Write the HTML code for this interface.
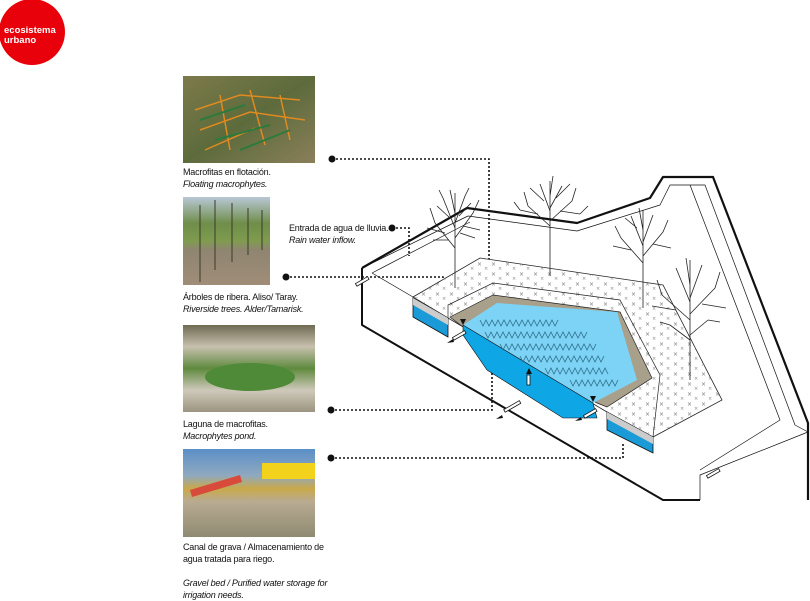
<!DOCTYPE html>
<html><head><meta charset="utf-8"><style>
body{margin:0;background:#fff;width:810px;height:598px;overflow:hidden;font-family:"Liberation Sans",Arial,sans-serif}
.t{position:absolute;font-size:9px;line-height:12px;color:#111;letter-spacing:-0.2px}
i{font-style:italic}
</style></head><body>
<svg width="810" height="598" style="position:absolute;left:0;top:0" xmlns="http://www.w3.org/2000/svg">
<defs>
<linearGradient id="p1" x1="0" y1="0" x2="1" y2="1"><stop offset="0" stop-color="#7d7a4a"/><stop offset=".5" stop-color="#5d6b3c"/><stop offset="1" stop-color="#8a7f5a"/></linearGradient>
<linearGradient id="p2" x1="0" y1="0" x2="0" y2="1"><stop offset="0" stop-color="#b9c7d6"/><stop offset=".3" stop-color="#6f8e4a"/><stop offset=".5" stop-color="#7f9b4f"/><stop offset=".6" stop-color="#8f8570"/><stop offset="1" stop-color="#a08d78"/></linearGradient>
<linearGradient id="p3" x1="0" y1="0" x2="0" y2="1"><stop offset="0" stop-color="#6f6a52"/><stop offset=".25" stop-color="#c7c0ae"/><stop offset=".5" stop-color="#5f8a3e"/><stop offset=".75" stop-color="#cfc9ba"/><stop offset="1" stop-color="#9b9480"/></linearGradient>
<linearGradient id="p4" x1="0" y1="0" x2="0" y2="1"><stop offset="0" stop-color="#5b8fc8"/><stop offset=".3" stop-color="#8fa9c0"/><stop offset=".45" stop-color="#c9a94a"/><stop offset=".6" stop-color="#b8ab92"/><stop offset="1" stop-color="#8f8a72"/></linearGradient>
<pattern id="gx" width="14" height="10" patternUnits="userSpaceOnUse"><text x="1" y="6" font-size="6" fill="#777" font-family="DejaVu Sans">×</text><text x="8" y="10" font-size="5" fill="#888" font-family="DejaVu Sans">×</text></pattern>
</defs>
<circle cx="32" cy="32" r="33" fill="#e8000b"/>
<text x="4" y="33" font-size="9.5" font-weight="bold" fill="#fff" font-family="Liberation Sans">ecosistema</text>
<text x="4" y="43" font-size="9.5" font-weight="bold" fill="#fff" font-family="Liberation Sans">urbano</text>
<rect x="183" y="76" width="132" height="87" fill="url(#p1)"/>
<g stroke="#e08a20" stroke-width="1.5" fill="none"><path d="M195 110 L240 95 L300 100 M200 130 L250 112 L305 120 M205 150 L255 128 M220 95 L230 150 M250 90 L265 145 M280 95 L290 140"/></g>
<g stroke="#2d7a3c" stroke-width="2" fill="none"><path d="M200 120 L245 105 M215 140 L270 125 M240 150 L290 130"/></g>
<rect x="183" y="197" width="87" height="88" fill="url(#p2)"/>
<g stroke="#3a3a2a" stroke-width="1"><path d="M200 205 V282 M215 200 V270 M232 203 V262 M248 208 V255 M262 210 V250"/></g>
<rect x="183" y="325" width="132" height="87" fill="url(#p3)"/>
<ellipse cx="250" cy="377" rx="45" ry="14" fill="#4f8a38"/>
<rect x="183" y="449" width="132" height="88" fill="url(#p4)"/>
<rect x="262" y="463" width="53" height="16" fill="#f2d21a"/>
<path d="M190 490 L240 475 L242 482 L192 497 Z" fill="#d84a3a"/>
<g stroke="#111" stroke-width="1.6" stroke-dasharray="2 2" fill="none">
<path d="M332 159 H489 V310"/>
<path d="M286 277 H443 V293"/>
<path d="M331 410 H492 V365"/>
<path d="M331 458 H623 V442"/>
<path d="M392 228 H409 V256"/>
</g>
<g fill="#111"><circle cx="332" cy="159" r="3.5"/><circle cx="286" cy="277" r="3.5"/><circle cx="331" cy="410" r="3.5"/><circle cx="331" cy="458" r="3.5"/><circle cx="392" cy="228" r="3.5"/></g>
<g stroke="#111" fill="none" stroke-linejoin="round">
<path d="M362 268 L467 208 L577 223 L650 198 L663 177 L713 177 L808 423 L808 500" stroke-width="2.2"/>
<path d="M362 268 L362 325 L663 500 L700 500" stroke-width="2"/>
<path d="M362 268 L468 216 L577 231 L660 205 L670 185 L705 185 L795 425 L808 432" stroke-width=".7"/>
<path d="M372 273 L470 222 M690 185 L780 420 L700 470 M372 273 L413 297 M808 432 L700 475 L700 500" stroke-width=".7"/>
</g>
<path d="M413 297 L480 258 L663 285 L722 400 L653 437 L607 412 L448 318 Z" fill="#fff" stroke="#222" stroke-width=".8"/>
<path d="M413 297 L480 258 L663 285 L722 400 L653 437 L607 412 L448 318 Z" fill="url(#gx)"/>
<path d="M448 318 L448 305 L493 283 L620 300 L660 375 L653 437" fill="none" stroke="#222" stroke-width=".7"/>
<path d="M413 298 L448 318 L448 337 L413 317 Z" fill="#1a9bd7" stroke="#111" stroke-width=".8"/>
<path d="M413 298 L448 318 L448 325 L413 305 Z" fill="#ccc"/>
<path d="M607 412 L653 437 L653 453 L607 430 Z" fill="#1a9bd7" stroke="#111" stroke-width=".8"/>
<path d="M607 412 L653 437 L653 444 L607 419 Z" fill="#ccc"/>
<path d="M450 317 L493 295 L620 312 L652 378 L607 407 L597 403 L463 327 Z" fill="#a8a08a" stroke="#222" stroke-width=".7"/>
<path d="M463 325 L497 303 L617 312 L637 380 L593 403 Z" fill="#7dd3f5"/>
<path d="M463 325 L593 403 L597 418 L563 418 L487 370 L463 335 Z" fill="#0fa6e6" stroke="#111" stroke-width=".6"/>
<g stroke="#2d6e8a" stroke-width=".8" fill="none">
<path d="M480 320 l3 6 l3 -6 l3 6 l3 -6 l3 6 l3 -6 l3 6 l3 -6 l3 6 l3 -6 l3 6 l3 -6 l3 6 l3 -6 l3 6 l3 -6 l3 6 l3 -6 l3 6 l3 -6 l3 6 l3 -6 l3 6 l3 -6 l3 6 l3 -6"/>
<path d="M485 332 l3 6 l3 -6 l3 6 l3 -6 l3 6 l3 -6 l3 6 l3 -6 l3 6 l3 -6 l3 6 l3 -6 l3 6 l3 -6 l3 6 l3 -6 l3 6 l3 -6 l3 6 l3 -6 l3 6 l3 -6 l3 6 l3 -6 l3 6 l3 -6 l3 6 l3 -6 l3 6 l3 -6 l3 6 l3 -6 l3 6 l3 -6"/>
<path d="M500 344 l3 6 l3 -6 l3 6 l3 -6 l3 6 l3 -6 l3 6 l3 -6 l3 6 l3 -6 l3 6 l3 -6 l3 6 l3 -6 l3 6 l3 -6 l3 6 l3 -6 l3 6 l3 -6 l3 6 l3 -6 l3 6 l3 -6 l3 6 l3 -6 l3 6 l3 -6 l3 6 l3 -6 l3 6 l3 -6"/>
<path d="M520 356 l3 6 l3 -6 l3 6 l3 -6 l3 6 l3 -6 l3 6 l3 -6 l3 6 l3 -6 l3 6 l3 -6 l3 6 l3 -6 l3 6 l3 -6 l3 6 l3 -6 l3 6 l3 -6 l3 6 l3 -6 l3 6 l3 -6 l3 6 l3 -6 l3 6 l3 -6"/>
<path d="M545 368 l3 6 l3 -6 l3 6 l3 -6 l3 6 l3 -6 l3 6 l3 -6 l3 6 l3 -6 l3 6 l3 -6 l3 6 l3 -6 l3 6 l3 -6 l3 6 l3 -6 l3 6 l3 -6 l3 6"/>
<path d="M570 380 l3 6 l3 -6 l3 6 l3 -6 l3 6 l3 -6 l3 6 l3 -6 l3 6 l3 -6 l3 6 l3 -6 l3 6 l3 -6 l3 6 l3 -6"/>
</g>
<g stroke="#111" stroke-width=".8" fill="#fff">
<rect x="355" y="280" width="14" height="3" transform="rotate(-30 362 281)"/>
<rect x="452" y="334" width="14" height="3" transform="rotate(-30 459 335)"/>
<rect x="503" y="405" width="18" height="3" transform="rotate(-30 512 406)"/>
<rect x="583" y="412" width="14" height="3" transform="rotate(-30 590 413)"/>
<rect x="527" y="375" width="3" height="10"/>
<rect x="706" y="472" width="14" height="3" transform="rotate(-30 713 473)"/>
</g>
<g fill="#111"><path d="M447 343 l6 -4 l1 3 z"/><path d="M496 419 l6 -4 l1 3 z"/><path d="M575 421 l6 -4 l1 3 z"/>
<path d="M529 368 l-3 6 h6 z"/><path d="M463 325 l-3 -6 h6 z"/><path d="M593 402 l-3 -6 h6 z"/></g>
<g stroke="#222" stroke-width=".8" fill="none">
<g transform="translate(455 288)"><path d="M0 0 V-95 M0 -40 L-20 -65 M0 -50 L18 -75 M0 -60 L-12 -90 M0 -65 L10 -92 M-10 -55 L-28 -60 M8 -62 L25 -58 M0 -75 L-5 -98 M-20 -65 L-25 -80 M18 -75 L24 -88 M-6 -48 L-22 -48 M5 -55 L20 -50 M-12 -90 L-16 -98 M10 -92 L14 -100 M-5 -70 L-18 -82 M4 -72 L16 -85"/></g>
<g transform="translate(550 276)"><path d="M0 0 V-95 M0 -50 L-22 -70 M0 -55 L22 -75 M0 -65 L-10 -92 M0 -68 L12 -90 M-12 -62 L-30 -66 M10 -65 L30 -62 M0 -80 L3 -100 M-22 -70 L-26 -84 M22 -75 L26 -88 M-6 -75 L-20 -88 M6 -78 L20 -92 M-30 -66 L-36 -74 M30 -62 L38 -70"/></g>
<g transform="translate(643 308)"><path d="M0 0 V-98 M0 -45 L-22 -70 M0 -52 L20 -76 M0 -62 L-12 -92 M0 -66 L10 -93 M-12 -58 L-30 -62 M10 -64 L28 -60 M0 -78 L-4 -100 M-22 -70 L-28 -82 M20 -76 L25 -88 M-6 -80 L-18 -90"/></g>
<g transform="translate(690 380)"><path d="M0 0 V-120 M0 -60 L-28 -85 M0 -66 L25 -92 M0 -78 L-14 -112 M0 -82 L12 -115 M-14 -70 L-38 -74 M12 -76 L36 -72 M0 -95 L-4 -122 M-28 -85 L-33 -100 M25 -92 L30 -108 M0 -40 L-20 -55 M0 -45 L18 -60 M-20 -55 L-30 -58 M18 -60 L30 -58"/></g>
</g>
</svg>
<div class="t" style="left:183px;top:166px">Macrofitas en flotación.<br><i>Floating macrophytes.</i></div>
<div class="t" style="left:289px;top:222px">Entrada de agua de lluvia.<br><i>Rain water inflow.</i></div>
<div class="t" style="left:183px;top:291px">Árboles de ribera. Aliso/ Taray.<br><i>Riverside trees. Alder/Tamarisk.</i></div>
<div class="t" style="left:183px;top:418px">Laguna de macrofitas.<br><i>Macrophytes pond.</i></div>
<div class="t" style="left:183px;top:541px">Canal de grava / Almacenamiento de<br>agua tratada para riego.<br><br><i>Gravel bed / Purified water storage for<br>irrigation needs.</i></div>
</body></html>
